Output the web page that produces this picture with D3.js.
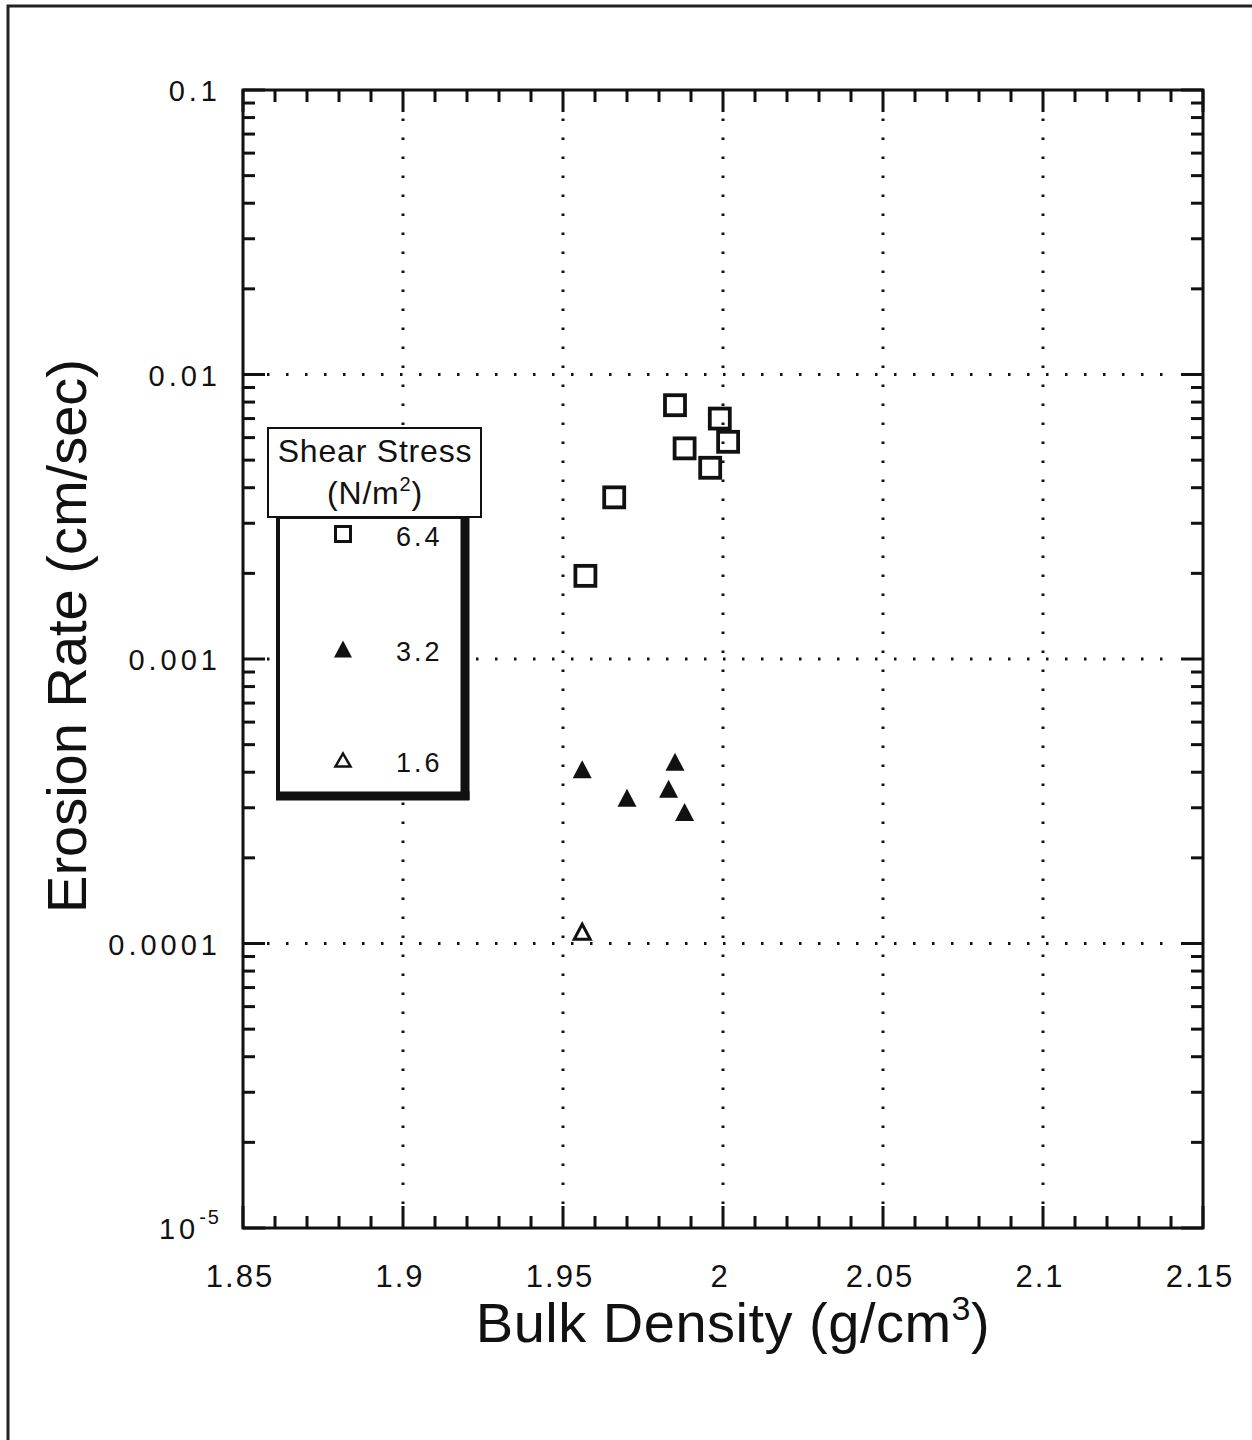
<!DOCTYPE html>
<html>
<head>
<meta charset="utf-8">
<script src="https://cdn.jsdelivr.net/npm/d3@7"></script>
<style>
  html, body { margin: 0; padding: 0; background: #fff; }
  svg { display: block; }
  text { font-family: "Liberation Sans", Arial, Helvetica, sans-serif; fill: #111; }
</style>
</head>
<body>
<svg id="chart" width="1252" height="1440"></svg>
<script>
// ---- data ----
const xTicks = [1.85, 1.9, 1.95, 2.0, 2.05, 2.1, 2.15];
const xTickLabels = ["1.85", "1.9", "1.95", "2", "2.05", "2.1", "2.15"];
const yTicks = [0.1, 0.01, 0.001, 0.0001, 0.00001];
const yTickLabels = ["0.1", "0.01", "0.001", "0.0001", "10^-5"];

const stress64X = [1.985, 1.999, 2.0016, 1.988, 1.996, 1.966, 1.957];
const stress64Y = [0.0078, 0.0070, 0.0058, 0.0055, 0.0047, 0.0037, 0.00196];
const stress32X = [1.956, 1.970, 1.985, 1.983, 1.988];
const stress32Y = [0.00041, 0.000325, 0.000435, 0.00035, 0.00029];
const stress16X = [1.956];
const stress16Y = [0.00011];

const legendLabels = ["6.4", "3.2", "1.6"];
const legendTitle = ["Shear Stress", "(N/m", "2", ")"];

// ---- layout ----
const svg = d3.select("#chart");
const L = 243, R = 1203, T = 90, B = 1228;
const ink = "#111";

const x = d3.scaleLinear().domain([1.85, 2.15]).range([L, R]);
const y = d3.scaleLog().domain([1e-5, 0.1]).range([B, T]);

// outer frame (left + top)
svg.append("path").attr("d", "M8,1440 V6 H1252").attr("fill", "none")
  .attr("stroke", "#222").attr("stroke-width", 3);

// dotted grid
const grid = svg.append("g").attr("stroke", ink).attr("stroke-width", 3)
  .attr("stroke-dasharray", "2.5 16.5").attr("fill", "none");
xTicks.slice(1, -1).forEach(v => {
  grid.append("line").attr("x1", x(v)).attr("x2", x(v)).attr("y1", B - 24).attr("y2", T + 24);
});
yTicks.slice(1, -1).forEach(v => {
  grid.append("line").attr("x1", L + 24).attr("x2", R - 24).attr("y1", y(v)).attr("y2", y(v));
});

// frame of plot
svg.append("rect").attr("x", L).attr("y", T).attr("width", R - L).attr("height", B - T)
  .attr("fill", "none").attr("stroke", ink).attr("stroke-width", 3);

// ticks
const tk = svg.append("g").attr("stroke", ink).attr("stroke-width", 3);
const xMinor = d3.range(0, 31).map(i => 1.85 + i * 0.01);
xMinor.forEach((v, i) => {
  const len = (i % 5 === 0) ? 22 : 12;
  tk.append("line").attr("x1", x(v)).attr("x2", x(v)).attr("y1", B).attr("y2", B - len);
  tk.append("line").attr("x1", x(v)).attr("x2", x(v)).attr("y1", T).attr("y2", T + len);
});
const yMinor = [];
[-5, -4, -3, -2].forEach(k => { for (let m = 1; m <= 9; m++) yMinor.push([m * Math.pow(10, k), m === 1]); });
yMinor.push([0.1, true]);
yMinor.forEach(([v, major]) => {
  const len = major ? 22 : 12;
  tk.append("line").attr("x1", L).attr("x2", L + len).attr("y1", y(v)).attr("y2", y(v));
  tk.append("line").attr("x1", R).attr("x2", R - len).attr("y1", y(v)).attr("y2", y(v));
});

// y tick labels
yTicks.forEach((v, i) => {
  const lab = yTickLabels[i];
  const t = svg.append("text").attr("x", 221).attr("y", y(v) + 11)
    .attr("text-anchor", "end").attr("font-size", 29).attr("letter-spacing", 4);
  if (lab.includes("^")) {
    const [base, exp] = lab.split("^");
    t.append("tspan").text(base);
    t.append("tspan").attr("dy", -15).attr("font-size", 20).attr("letter-spacing", 2).text(exp);
  } else {
    t.text(lab);
  }
});

// x tick labels
xTicks.forEach((v, i) => {
  svg.append("text").attr("x", x(v) - 3).attr("y", 1287)
    .attr("text-anchor", "middle").attr("font-size", 31).attr("letter-spacing", 2)
    .text(xTickLabels[i]);
});

// axis titles
const xt = svg.append("text").attr("x", 733).attr("y", 1342).attr("text-anchor", "middle")
  .attr("font-size", 56).attr("letter-spacing", 0.5);
xt.append("tspan").text("Bulk Density (g/cm");
xt.append("tspan").attr("dy", -22).attr("font-size", 34).text("3");
xt.append("tspan").attr("dy", 22).text(")");

svg.append("text").attr("transform", "translate(86,636) rotate(-90)")
  .attr("text-anchor", "middle").attr("font-size", 56).text("Erosion Rate (cm/sec)");

// ---- markers ----
const sq = 20, tw = 19, th = 18;
function triPath(cx, cy, w, h) {
  return `M${cx},${cy - h / 2} L${cx + w / 2},${cy + h / 2} L${cx - w / 2},${cy + h / 2} Z`;
}
const marks = svg.append("g");
stress64X.forEach((v, i) => {
  marks.append("rect").attr("x", x(v) - sq / 2).attr("y", y(stress64Y[i]) - sq / 2)
    .attr("width", sq).attr("height", sq).attr("fill", "none")
    .attr("stroke", ink).attr("stroke-width", 3.8);
});
stress32X.forEach((v, i) => {
  marks.append("path").attr("d", triPath(x(v), y(stress32Y[i]), tw, th)).attr("fill", ink);
});
stress16X.forEach((v, i) => {
  marks.append("path").attr("d", triPath(x(v), y(stress16Y[i]), 16, 15))
    .attr("fill", "none").attr("stroke", ink).attr("stroke-width", 3).attr("stroke-linejoin", "miter");
});

// ---- legend ----
const lg = svg.append("g");
lg.append("rect").attr("x", 278).attr("y", 517).attr("width", 187).attr("height", 279)
  .attr("fill", "#fff").attr("stroke", ink).attr("stroke-width", 4);
lg.append("line").attr("x1", 465).attr("x2", 465).attr("y1", 517).attr("y2", 800)
  .attr("stroke", ink).attr("stroke-width", 9);
lg.append("line").attr("x1", 276).attr("x2", 469.5).attr("y1", 796).attr("y2", 796)
  .attr("stroke", ink).attr("stroke-width", 9);
lg.append("rect").attr("x", 268).attr("y", 428).attr("width", 213).attr("height", 89)
  .attr("fill", "#fff").attr("stroke", ink).attr("stroke-width", 2);
lg.append("text").attr("x", 375).attr("y", 462).attr("text-anchor", "middle")
  .attr("font-size", 32).attr("letter-spacing", 0.8).text(legendTitle[0]);
const lt2 = lg.append("text").attr("x", 375).attr("y", 504).attr("text-anchor", "middle")
  .attr("font-size", 32).attr("letter-spacing", 0.8);
lt2.append("tspan").text(legendTitle[1]);
lt2.append("tspan").attr("dy", -13).attr("font-size", 20).text(legendTitle[2]);
lt2.append("tspan").attr("dy", 13).text(legendTitle[3]);

const legY = [534, 649, 760];
lg.append("rect").attr("x", 343 - 7.5).attr("y", legY[0] - 7.5).attr("width", 15).attr("height", 15)
  .attr("fill", "none").attr("stroke", ink).attr("stroke-width", 3);
lg.append("path").attr("d", triPath(343, legY[1], 18, 17)).attr("fill", ink);
lg.append("path").attr("d", triPath(343, legY[2], 15, 13)).attr("fill", "none")
  .attr("stroke", ink).attr("stroke-width", 2.5);
legendLabels.forEach((lab, i) => {
  lg.append("text").attr("x", 396).attr("y", legY[i] + 12).attr("font-size", 27)
    .attr("letter-spacing", 3).text(lab);
});
</script>
</body>
</html>
